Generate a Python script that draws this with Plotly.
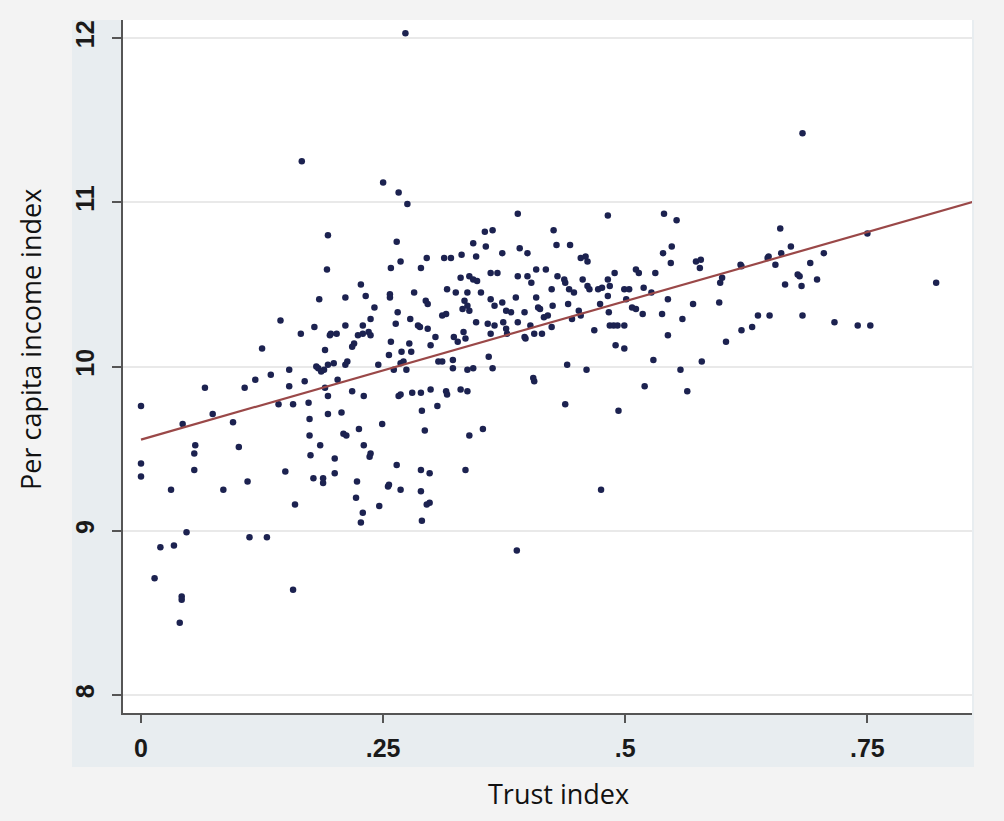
import plotly.graph_objects as go

# ---- data (trust index, per capita income index) ----
trust = [
    # left part
    .166,.193,.192,.184,.144,.179,.165,.195,.190,.125,.183,.189,.153,.134,.118,.107,.066,.153,.169,.190,
    .193,0.0,.142,.157,.173,.074,.043,.095,.174,.193,.174,.056,.101,.185,.181,.186,.193,.199,
    .055,.055,0.0,0.0,.031,.085,.110,.149,.175,.178,.188,.188,.159,.047,.020,.034,.112,.130,.014,.042,.042,.040,.157,
    # centre
    .273,.250,.266,.275,.389,.264,.268,.258,.289,.295,.313,.320,.331,.346,.343,.356,.355,.363,.373,.391,
    .330,.339,.343,.347,.361,.368,.389,.227,.211,.232,.257,.257,.282,.294,.296,.316,.325,.337,.351,.334,
    .337,.339,.332,.361,.365,.373,.377,.382,.387,.241,.265,.237,.278,.311,.315,.263,.286,.288,.296,.346,
    .358,.365,.374,.389,.211,.229,.196,.202,.224,.229,.235,.237,.220,.218,.304,.323,.333,.335,.327,.361,
    .377,.378,.258,.277,.279,.299,.269,.256,.359,.322,.245,.268,.271,.307,.311,.261,.274,.213,.211,.322,
    .337,.343,.363,.203,.218,.230,.266,.268,.280,.289,.299,.315,.316,.330,.337,
    .207,.249,.225,.209,.212,.290,.306,.293,.339,.353,.230,.237,.236,.200,.200,.264,.289,.298,.335,.223,
    .255,.256,.268,.289,.222,.246,.295,.298,.229,.227,.290,.388,
    # centre-right
    .482,.540,.553,.426,.429,.443,.399,.454,.459,.461,.539,.548,.547,.573,.578,.577,.408,.418,.430,.437,
    .438,.456,.461,.463,.482,.489,.511,.514,.531,.399,.403,.424,.442,.447,.472,.476,.484,.499,.504,.519,
    .408,.425,.441,.482,.474,.501,.507,.511,.527,.544,.570,.597,.410,.412,.396,.452,.454,.483,.518,.538,
    .559,.416,.420,.445,.424,.402,.396,.397,.406,.414,.468,.484,.488,.492,.499,.544,.490,.499,.529,.440,
    .460,.579,.557,.405,.406,.520,.564,.438,.493,.475,
    # right
    .683,.660,.671,.648,.647,.661,.655,.619,.620,.705,.691,.750,.600,.598,.678,.680,.665,.682,.698,.821,
    .637,.649,.683,.631,.620,.604,.716,.740,.753,
]
income = [
    11.25,10.80,10.59,10.41,10.28,10.24,10.20,10.19,10.10,10.11,9.99,9.98,9.98,9.95,9.92,9.87,9.87,9.88,9.91,9.87,
    9.82,9.76,9.77,9.77,9.78,9.71,9.65,9.66,9.68,9.71,9.58,9.52,9.51,9.52,10.00,9.97,10.01,10.02,
    9.47,9.37,9.41,9.33,9.25,9.25,9.30,9.36,9.46,9.32,9.32,9.29,9.16,8.99,8.90,8.91,8.96,8.96,8.71,8.60,8.58,8.44,8.64,
    12.03,11.12,11.06,10.99,10.93,10.76,10.64,10.60,10.60,10.66,10.66,10.66,10.68,10.67,10.75,10.73,10.82,10.83,10.69,10.72,
    10.54,10.55,10.53,10.52,10.57,10.57,10.55,10.50,10.42,10.43,10.44,10.42,10.45,10.40,10.38,10.47,10.45,10.45,10.45,10.40,
    10.37,10.34,10.35,10.41,10.37,10.39,10.34,10.33,10.42,10.36,10.33,10.29,10.29,10.31,10.32,10.26,10.25,10.24,10.23,10.27,
    10.26,10.25,10.27,10.27,10.25,10.25,10.20,10.20,10.19,10.20,10.21,10.19,10.14,10.12,10.18,10.18,10.21,10.17,10.15,10.20,
    10.23,10.20,10.15,10.14,10.09,10.13,10.09,10.07,10.06,10.04,10.01,10.02,10.03,10.03,10.03,9.98,9.98,10.03,10.01,9.99,
    9.98,9.99,9.99,9.92,9.85,9.82,9.82,9.83,9.84,9.84,9.86,9.85,9.83,9.86,9.85,
    9.72,9.65,9.62,9.59,9.58,9.73,9.76,9.61,9.58,9.62,9.52,9.47,9.45,9.44,9.35,9.40,9.37,9.35,9.37,9.30,
    9.27,9.28,9.25,9.24,9.20,9.15,9.16,9.17,9.11,9.05,9.06,8.88,
    10.92,10.93,10.89,10.83,10.74,10.74,10.69,10.66,10.67,10.64,10.69,10.73,10.63,10.64,10.65,10.60,10.59,10.59,10.55,10.53,
    10.51,10.53,10.49,10.47,10.53,10.57,10.59,10.57,10.57,10.55,10.51,10.47,10.47,10.45,10.47,10.48,10.49,10.47,10.47,10.48,
    10.42,10.37,10.38,10.43,10.38,10.41,10.36,10.35,10.45,10.41,10.38,10.39,10.36,10.35,10.33,10.34,10.31,10.33,10.32,10.32,
    10.29,10.30,10.31,10.29,10.24,10.25,10.18,10.17,10.20,10.20,10.22,10.25,10.25,10.25,10.25,10.19,10.13,10.11,10.04,10.01,
    9.98,10.03,9.98,9.93,9.91,9.88,9.85,9.77,9.73,9.25,
    11.42,10.84,10.73,10.67,10.66,10.69,10.62,10.62,10.61,10.69,10.63,10.81,10.54,10.51,10.56,10.55,10.50,10.49,10.53,10.51,
    10.31,10.31,10.31,10.24,10.22,10.15,10.27,10.25,10.25,
]

# fitted line
fit_intercept = 9.555
fit_slope = 1.685
fit_x = [0.0, 0.862]
fit_y = [fit_intercept + fit_slope * v for v in fit_x]

x_ticks = [0, 0.25, 0.5, 0.75]
x_tick_text = ["0", ".25", ".5", ".75"]
y_ticks = [8, 9, 10, 11, 12]
y_tick_text = ["8", "9", "10", "11", "12"]

fig = go.Figure()
fig.add_trace(go.Scatter(
    x=trust, y=income, mode="markers",
    marker=dict(color="#1c2250", size=6.5, line=dict(width=0)),
    showlegend=False, hoverinfo="x+y",
))
fig.add_trace(go.Scatter(
    x=fit_x, y=fit_y, mode="lines",
    line=dict(color="#9a4848", width=2.2),
    showlegend=False, hoverinfo="skip",
))

W, H = 1004, 821
L, R, T, B = 123, 32, 20, 108
pw, ph = W - L - R, H - T - B

def px(xp):
    return (xp - L) / pw

def py(yp):
    return (H - B - yp) / ph

tick_font = dict(family="Liberation Sans", size=25, color="#1a1a1a", weight="bold")
title_font = dict(family="Open Sans", size=27, color="#111")

fig.update_layout(
    width=W, height=H,
    margin=dict(l=L, r=R, t=T, b=B, pad=0),
    paper_bgcolor="#f3f3f3",
    plot_bgcolor="white",
    shapes=[
        dict(type="rect", xref="paper", yref="paper",
             x0=px(72), x1=px(974), y0=py(767), y1=py(20),
             fillcolor="#e8edf0", line=dict(width=0), layer="below"),
        dict(type="rect", xref="paper", yref="paper",
             x0=0, x1=px(972), y0=0, y1=1,
             fillcolor="white", line=dict(width=0), layer="below"),
    ],
    annotations=[
        dict(text="Trust index", xref="paper", yref="paper",
             x=px(558), y=py(793), xanchor="center", yanchor="middle",
             showarrow=False, font=title_font),
        dict(text="Per capita income index", xref="paper", yref="paper",
             x=px(30), y=py(340), xanchor="center", yanchor="middle", textangle=-90,
             showarrow=False, font=title_font),
    ],
)

fig.update_xaxes(
    range=[-0.0186, 0.858],
    tickvals=x_ticks, ticktext=x_tick_text,
    ticks="outside", ticklen=8, tickwidth=2, tickcolor="#555",
    showline=True, linecolor="#555", linewidth=2,
    showgrid=False, zeroline=False,
    tickfont=tick_font,
    ticklabelstandoff=4,
)
fig.update_yaxes(
    range=[7.89, 12.11],
    tickvals=y_ticks, ticktext=y_tick_text, tickangle=-90,
    ticks="outside", ticklen=9, tickwidth=2, tickcolor="#555",
    showline=True, linecolor="#555", linewidth=2,
    showgrid=True, gridcolor="#e9e9e9", gridwidth=2,
    zeroline=False,
    tickfont=tick_font,
    ticklabelstandoff=8,
)

fig.write_html("out.html")
